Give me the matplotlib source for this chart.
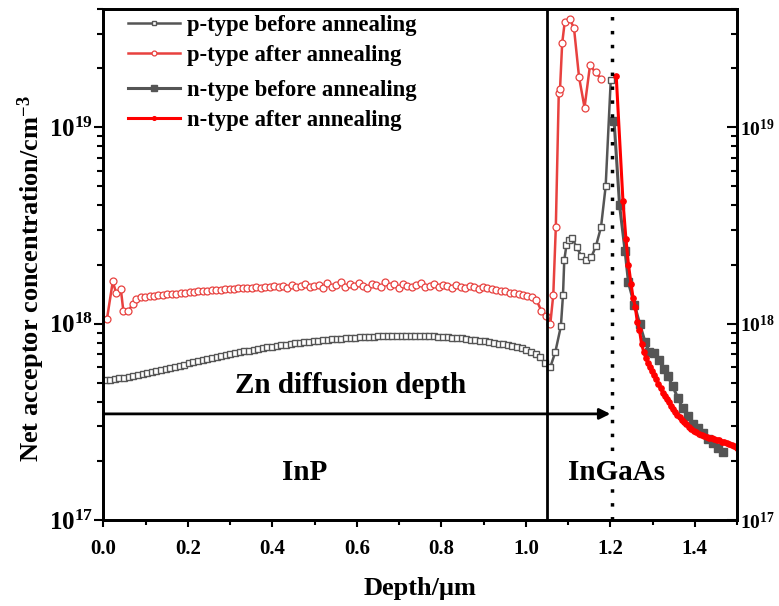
import numpy as np
import matplotlib
matplotlib.use("Agg")
import matplotlib.pyplot as plt
from matplotlib.ticker import FixedLocator, FuncFormatter, LogLocator, MultipleLocator, NullFormatter

plt.rcParams['font.family'] = 'Liberation Serif'
plt.rcParams['font.weight'] = 'bold'
plt.rcParams['mathtext.fontset'] = 'custom'
plt.rcParams['mathtext.rm'] = 'Liberation Serif:bold'
plt.rcParams['mathtext.bf'] = 'Liberation Serif:bold'
plt.rcParams['mathtext.it'] = 'Liberation Serif:bold:italic'

# ---- datos (concentracion en unidades de 1e17 cm^-3) ----
# p-type antes del recocido: region InP (muestreo regular) + subida en InGaAs
p_antes_inp = [5.15, 5.18, 5.22, 5.26, 5.30, 5.35, 5.40, 5.46, 5.52, 5.58,
               5.65, 5.72, 5.79, 5.87, 5.95, 6.03, 6.11, 6.19, 6.27, 6.35,
               6.43, 6.51, 6.59, 6.67, 6.75, 6.83, 6.91, 6.99, 7.07, 7.15,
               7.22, 7.29, 7.36, 7.43, 7.50, 7.57, 7.63, 7.69, 7.75, 7.81,
               7.87, 7.93, 7.98, 8.03, 8.08, 8.13, 8.18, 8.23, 8.27, 8.31,
               8.35, 8.39, 8.43, 8.46, 8.49, 8.52, 8.55, 8.57, 8.59, 8.61,
               8.63, 8.65, 8.66, 8.67, 8.68, 8.68, 8.68, 8.67, 8.66, 8.65,
               8.63, 8.61, 8.58, 8.55, 8.52, 8.48, 8.44, 8.40, 8.35, 8.30,
               8.24, 8.18, 8.12, 8.05, 7.98, 7.91, 7.83, 7.75, 7.66, 7.57,
               7.47, 7.35, 7.20, 7.00, 6.75, 6.30]
p_antes_x2 = [1.058, 1.070, 1.083, 1.088, 1.091, 1.096, 1.102, 1.110, 1.120,
              1.131, 1.143, 1.155, 1.166, 1.178, 1.189, 1.201]
p_antes_y2 = [6.0, 7.2, 9.7, 14.0, 21.0, 25.0, 26.8, 27.3, 24.5,
              22.2, 21.2, 21.8, 24.8, 31.0, 50.0, 173.0]

# p-type despues del recocido
p_desp_x1 = [0.008, 0.022, 0.030, 0.041, 0.047, 0.059, 0.069, 0.077]
p_desp_y1 = [10.5, 16.4, 14.3, 15.0, 11.6, 11.6, 12.6, 13.3]
p_desp_inp = [13.6, 13.7, 13.8, 13.9, 13.95, 14.0, 14.1, 14.15, 14.2, 14.3,
              14.4, 14.45, 14.5, 14.6, 14.6, 14.7, 14.8, 14.8, 14.9, 14.95,
              15.0, 15.0, 15.1, 15.1, 15.2, 15.2, 15.3, 15.2, 15.4, 15.3,
              15.5, 15.3, 15.6, 15.2, 15.7, 15.4, 15.5, 15.9, 15.3, 15.6,
              15.8, 15.2, 16.1, 15.4, 15.7, 16.2, 15.3, 15.9, 15.6, 16.1,
              15.5, 15.1, 16.0, 15.7, 15.3, 16.2, 15.6, 15.9, 15.2, 16.0,
              15.6, 15.3, 15.8, 16.1, 15.4, 15.6, 15.9, 15.3, 15.7, 15.5,
              15.2, 15.8, 15.4, 15.1, 15.6, 15.3, 15.0, 15.4, 15.2, 15.0,
              14.9, 14.7, 14.6, 14.4, 14.3, 14.2, 14.0, 13.8, 13.6, 13.2]
p_desp_x2 = [1.037, 1.048, 1.058, 1.065, 1.071, 1.078, 1.081, 1.086, 1.092,
             1.104, 1.114, 1.126, 1.139, 1.152, 1.165, 1.178]
p_desp_y2 = [11.6, 10.9, 10.0, 14.0, 31.0, 150.0, 157.0, 267.0, 342.0,
             355.0, 320.0, 180.0, 126.0, 207.0, 190.0, 177.0]

# n-type antes del recocido
n_antes_x = [1.209, 1.222, 1.235, 1.243, 1.257, 1.270, 1.282, 1.292, 1.304,
             1.316, 1.327, 1.336, 1.348, 1.360, 1.372, 1.384, 1.396, 1.408,
             1.420, 1.431, 1.443, 1.455, 1.466]
n_antes_y = [107.0, 40.0, 23.4, 16.2, 12.5, 9.9, 8.1, 7.2, 7.1,
             6.5, 5.9, 5.4, 4.8, 4.17, 3.7, 3.37, 3.1, 2.94,
             2.77, 2.6, 2.46, 2.32, 2.23]

# n-type despues del recocido
n_desp_x = [1.214, 1.230, 1.237, 1.243, 1.249, 1.254, 1.259, 1.264, 1.269,
            1.274, 1.279, 1.284, 1.289, 1.294, 1.299, 1.304, 1.309, 1.314,
            1.319, 1.324, 1.329, 1.334, 1.339, 1.344, 1.349, 1.354, 1.359,
            1.364, 1.369, 1.374, 1.380, 1.386, 1.392, 1.398, 1.404, 1.410,
            1.416, 1.422, 1.428, 1.434, 1.440, 1.446, 1.452, 1.458, 1.464,
            1.470, 1.476, 1.482, 1.488, 1.494, 1.500]
n_desp_y = [183.0, 42.0, 27.0, 20.0, 16.0, 13.5, 12.2, 10.2, 9.3,
            7.9, 7.2, 6.7, 6.3, 6.0, 5.75, 5.5, 5.2, 4.95,
            4.7, 4.45, 4.3, 4.12, 3.98, 3.82, 3.68, 3.55, 3.44,
            3.33, 3.23, 3.15, 3.07, 2.99, 2.91, 2.84, 2.79, 2.75,
            2.71, 2.68, 2.65, 2.63, 2.61, 2.58, 2.56, 2.54, 2.51,
            2.49, 2.46, 2.43, 2.40, 2.37, 2.32]

x_interfaz = 1.05
x_difusion = 1.205
y_flecha = 3.47e17

# ---- armar las series ----
x_pa = np.concatenate([np.linspace(0.005, 1.045, len(p_antes_inp)), p_antes_x2])
y_pa = np.concatenate([p_antes_inp, p_antes_y2]) * 1e17
x_pd = np.concatenate([p_desp_x1, np.linspace(0.088, 1.025, len(p_desp_inp)), p_desp_x2])
y_pd = np.concatenate([p_desp_y1, p_desp_inp, p_desp_y2]) * 1e17

fig = plt.figure(figsize=(7.79, 6.06), dpi=100)
ax = fig.add_axes([103.5 / 779, 86 / 606, 633.5 / 779, 511 / 606])

gris = '#555555'
rojo_claro = '#e8413f'
l1, = ax.plot(x_pa, y_pa, '-s', color=gris, lw=1.8, ms=5, mfc='white', mec=gris, mew=1.0,
              label='p-type before annealing')
l2, = ax.plot(x_pd, y_pd, '-o', color=rojo_claro, lw=1.8, ms=5, mfc='white', mec=rojo_claro, mew=0.9,
              label='p-type after annealing')
l3, = ax.plot(n_antes_x, np.array(n_antes_y) * 1e17, '-s', color=gris, lw=2.2, ms=5.5,
              label='n-type before annealing')
l4, = ax.plot(n_desp_x, np.array(n_desp_y) * 1e17, '-o', color='#ff0000', lw=2.2, ms=3.8,
              label='n-type after annealing')

ax.axvline(x_interfaz, color='black', lw=2)
ax.axvline(x_difusion, color='black', lw=2.5, ls=(0, (1, 3)))
ax.annotate('', xy=(1.2, y_flecha), xytext=(0.0, y_flecha),
            arrowprops=dict(arrowstyle='-|>', lw=2, color='black', mutation_scale=16,
                            shrinkA=0, shrinkB=0))

ax.text(0.585, 4.85e17, 'Zn diffusion depth', fontsize=21, fontweight='bold', ha='center', va='center')
ax.text(0.477, 1.74e17, 'InP', fontsize=21, fontweight='bold', ha='center', va='center')
ax.text(1.214, 1.74e17, 'InGaAs', fontsize=21, fontweight='bold', ha='center', va='center')

ax.set_yscale('log')
ax.set_xlim(0, 1.5)
ax.set_ylim(1e17, 4e19)
ax.xaxis.set_major_locator(FixedLocator([0.0, 0.2, 0.4, 0.6, 0.8, 1.0, 1.2, 1.4]))
ax.xaxis.set_minor_locator(MultipleLocator(0.1))
ax.xaxis.set_major_formatter(FuncFormatter(lambda v, p: '%.1f' % v))

formato_pot = FuncFormatter(lambda v, p: r'$\mathbf{10^{%d}}$' % round(np.log10(v)))

# eje derecho con ticks hacia dentro
ax2 = ax.twinx()
ax2.set_yscale('log')
ax2.set_ylim(ax.get_ylim())
for eje in (ax, ax2):
    eje.yaxis.set_major_locator(FixedLocator([1e17, 1e18, 1e19]))
    eje.yaxis.set_minor_locator(LogLocator(base=10, subs=np.arange(2, 10), numticks=20))
    eje.yaxis.set_minor_formatter(NullFormatter())
    eje.yaxis.set_major_formatter(formato_pot)
    for lado in eje.spines.values():
        lado.set_linewidth(2)

ax.tick_params(axis='x', which='both', direction='out', width=1.5, labelsize=15, top=False, pad=9)
ax.tick_params(axis='x', which='major', length=5)
ax.tick_params(axis='x', which='minor', length=3.5)
ax.tick_params(axis='y', which='both', direction='out', width=1.5, labelsize=18, pad=1)
ax.tick_params(axis='y', which='major', length=6.5)
ax.tick_params(axis='y', which='minor', length=4)
ax2.tick_params(axis='y', which='both', direction='in', width=1.5, labelsize=14, pad=2)
ax2.tick_params(axis='y', which='major', length=7)
ax2.tick_params(axis='y', which='minor', length=4)

ax.set_xlabel('Depth/μm', fontsize=19, fontweight='bold', labelpad=13)
ax.set_ylabel('Net acceptor concentration/cm$^{-3}$', fontsize=19, fontweight='bold')
ax.yaxis.set_label_coords(-0.089, 0.472)

opciones_leyenda = dict(loc='upper left', frameon=False, fontsize=16.4, borderpad=0,
                        borderaxespad=0, handlelength=2.3, handletextpad=0.3,
                        labelspacing=0.38, markerscale=0.7)
leg1 = ax2.legend(handles=[l1, l2], bbox_to_anchor=(0.0387, 0.988), **opciones_leyenda)
ax2.add_artist(leg1)
ax2.legend(handles=[l3, l4], bbox_to_anchor=(0.0387, 0.861), **opciones_leyenda)

fig.savefig('out.png', dpi=100)
